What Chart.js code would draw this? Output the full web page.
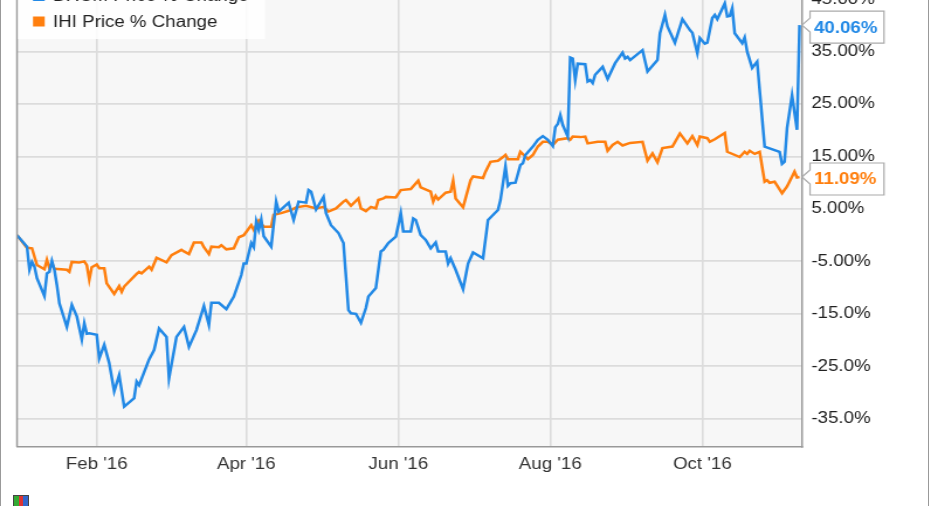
<!DOCTYPE html>
<html lang="en">
<head>
  <meta charset="UTF-8">
  <title>IHI Price % Change</title>
  <style>
    html, body { margin: 0; padding: 0; background: #fff; }
    #wrap { position: relative; width: 931px; height: 506px; overflow: hidden; }
    #chart { position: absolute; left: 0; top: -30px; width: 931px; height: 536px; }
    #frame { position: absolute; left: 0; top: 0; width: 929px; height: 506px; border-left: 1px solid #999; border-right: 1px solid #999; box-sizing: border-box; }
    #logo { position: absolute; left: 13px; top: 495px; width: 14px; height: 12px; border: 1px solid #444;
            background: linear-gradient(90deg, #3a3 0 33%, #d33 33% 66%, #36c 66%); }
  </style>
</head>
<body>
  <div id="wrap">
    <canvas id="chart" width="796" height="536" style="width:931px;height:536px"></canvas>
    <div id="frame"></div>
    <div id="logo"></div>
  </div>
  <script src="https://cdn.jsdelivr.net/npm/chart.js"></script>
  <script>
    // days since 31 Dec 2015, % price change
    const blueName = "DXCM Price % Change";
    const blueDays = [0,4,5,6,7,8,11,12,13,14,15,16,17,20,22,24,26,27,28,29,32,33,35,37,39,41,43,47,48,49,
      53,55,57,60,61,64,67,69,72,75,77,78,81,84,87,90,91,92,94,95,96,97,98,99,102,104,105,109,111,113,
      116,117,118,120,123,124,126,129,131,133,134,136,138,140,141,144,146,147,149,152,153,154,155,158,159,160,162,164,166,168,
      169,172,173,174,176,179,181,183,187,189,193,194,196,197,198,200,202,203,204,207,209,211,213,215,216,217,218,219,221,222,
      223,224,225,228,229,230,231,232,235,237,240,243,244,245,246,251,253,257,258,260,261,264,267,270,271,273,274,276,277,279,
      280,281,284,285,286,287,288,291,292,293,295,297,300,306,307,308,309,311,313,314];
    const blueValues = [0,-2.2,-6.6,-5.1,-6.0,-8.2,-11.6,-7.3,-7.0,-4.9,-6.6,-9.5,-13.0,-17.5,-13.3,-15.5,-19.9,-16.8,-18.8,-18.7,
      -19.0,-23.5,-20.9,-24.4,-29.8,-26.7,-32.7,-31.1,-27.9,-28.6,-23.7,-21.9,-17.8,-19.4,-27.3,-19.4,-17.5,-21.3,-18.1,-13.5,
      -17.1,-12.9,-12.9,-14.1,-11.7,-7.6,-5.4,-5.4,-1.5,-2.3,2.6,1.0,3.0,-0.2,-2.2,6.4,4.5,6.2,2.9,6.4,
      6.2,8.6,8.3,4.9,7.3,4.2,1.9,0.4,-1.5,-14.3,-14.9,-15.0,-16.7,-13.9,-11.7,-10.1,-3.1,-2.8,-1.5,-0.3,
      1.9,4.2,0.7,0.7,3.2,2.9,0.0,-0.9,-2.5,-1.4,-3.1,-3.1,-5.4,-4.4,-6.6,-10.3,-5.4,-3.3,-4.4,2.9,
      4.8,6.7,13.1,9.4,9.9,10.0,13.4,13.7,15.3,16.9,18.2,18.9,18.2,17.0,20.6,21.2,22.9,21.0,18.8,33.9,
      33.7,29.6,32.7,32.6,29.3,29.6,29.0,30.6,32.1,29.8,32.8,34.8,33.7,34.0,33.4,35.3,31.2,33.4,38.5,42.0,
      39.8,36.7,41.2,39.1,38.6,34.7,37.6,36.5,36.7,41.4,42.0,41.2,44.2,41.7,41.8,43.3,38.5,36.6,37.7,35.0,
      31.9,33.1,16.9,15.9,13.6,14.0,20.4,26.7,20.1,40.06];

    const ihiName = "IHI Price % Change";
    const ihiDays = [0,4,6,8,11,12,13,14,15,20,21,22,25,27,28,29,30,32,33,35,36,39,41,42,43,48,49,50,53,54,
      56,60,62,66,67,69,71,74,75,77,78,81,82,84,87,89,91,94,95,97,99,102,103,106,110,112,116,120,122,123,
      125,128,131,132,134,137,138,140,142,144,145,147,148,152,154,158,161,162,166,167,168,169,172,174,175,176,179,182,183,187,
      188,190,193,195,196,197,201,202,204,205,207,209,211,213,215,217,221,222,223,226,228,229,233,236,237,239,241,243,246,251,
      253,255,257,259,263,266,269,271,273,274,277,278,280,284,285,290,292,293,294,296,298,300,301,302,304,307,309,312,313,314];
    const ihiValues = [0,-2.4,-2.5,-5.7,-6.5,-4.7,-6.3,-5.4,-6.4,-6.6,-7.0,-5.1,-5.2,-5.0,-5.7,-8.5,-6.1,-5.6,-6.3,-6.3,
      -9.2,-11.2,-9.7,-10.8,-9.8,-7.4,-7.0,-7.3,-6.0,-6.6,-4.3,-5.2,-3.8,-2.8,-3.1,-3.6,-1.4,-1.4,-2.3,-3.6,
      -2.2,-2.3,-1.9,-2.7,-2.5,-0.4,0.0,1.9,1.0,2.8,1.6,1.6,3.9,4.2,4.8,5.3,5.6,5.1,5.3,5.4,
      4.5,5.1,6.4,6.7,5.6,7.0,5.1,4.6,5.4,5.1,6.7,7.0,7.3,7.2,8.6,8.8,10.4,9.1,8.3,6.4,
      7.5,6.8,8.1,8.3,10.4,7.0,5.3,10.5,11.2,10.9,12.1,14.0,14.2,14.9,15.3,14.5,14.5,15.9,15.0,14.5,
      15.3,16.9,17.8,17.8,17.2,18.2,18.5,18.2,18.8,18.7,18.8,17.5,17.8,17.8,16.1,17.2,17.8,17.1,17.6,17.8,
      14.2,15.6,13.9,16.6,16.9,19.4,17.5,18.9,17.2,18.8,18.5,17.8,18.3,19.5,15.9,14.9,15.9,15.5,16.1,15.5,
      15.9,10.2,10.5,10.0,10.2,8.0,9.3,12.1,11.0,11.09];

    const xTickDays = [32, 92, 153, 214, 275];
    const xTickLabels = ["Feb '16", "Apr '16", "Jun '16", "Aug '16", "Oct '16"];
    const yTicks = [-35, -25, -15, -5, 5, 15, 25, 35, 45];
    const yTickLabels = ["-35.0%", "-25.0%", "-15.0%", "-5.00%", "5.00%", "15.00%", "25.00%", "35.00%", "45.00%"];

    const BLUE = '#2289e6', ORANGE = '#ff7f0e';
    const FONT = 'Arial, "Liberation Sans", sans-serif';
    // the picture is stretched sideways; canvas is 796 wide, shown at 931
    const S = 931 / 796;
    const X = px => px / S;

    const plotBg = {
      id: 'plotBg',
      beforeDraw(chart) {
        const { ctx, chartArea: a } = chart;
        ctx.save();
        ctx.fillStyle = '#f7f7f7';
        ctx.fillRect(a.left, a.top, a.right - a.left, a.bottom - a.top);
        ctx.restore();
      }
    };

    const extras = {
      id: 'extras',
      afterDraw(chart) {
        const { ctx, chartArea: a } = chart;
        const ys = chart.scales.y;
        ctx.save();
        // left border of plot
        ctx.strokeStyle = '#999';
        ctx.lineWidth = 1.5;
        ctx.beginPath();
        ctx.moveTo(a.left, a.top);
        ctx.lineTo(a.left, a.bottom);
        ctx.stroke();

        // legend box
        ctx.fillStyle = 'rgba(255,255,255,0.85)';
        ctx.fillRect(X(18), 0, X(265) - X(18), 69);
        const rows = [[blueName, BLUE, 26], [ihiName, ORANGE, 51.5]];
        ctx.font = '16px ' + FONT;
        ctx.textBaseline = 'middle';
        ctx.textAlign = 'left';
        rows.forEach(([name, color, y]) => {
          ctx.fillStyle = color;
          ctx.fillRect(X(33), y - 5, 10, 10);
          ctx.fillStyle = '#222';
          ctx.fillText(name, X(53), y + 1);
        });

        // end value tags
        const tags = [[blueValues[blueValues.length - 1], BLUE], [ihiValues[ihiValues.length - 1], ORANGE]];
        tags.forEach(([v, color]) => {
          const y = ys.getPixelForValue(v);
          const cy = y + 2, l = X(810), r = X(884), t = cy - 16, b = cy + 16;
          ctx.beginPath();
          ctx.moveTo(a.right, y);
          ctx.lineTo(l, y - 7);
          ctx.lineTo(l, t);
          ctx.lineTo(r, t);
          ctx.lineTo(r, b);
          ctx.lineTo(l, b);
          ctx.lineTo(l, y + 7);
          ctx.closePath();
          ctx.fillStyle = '#fff';
          ctx.fill();
          ctx.strokeStyle = '#aaa';
          ctx.lineWidth = 1.2;
          ctx.stroke();
          ctx.fillStyle = color;
          ctx.font = 'bold 16px ' + FONT;
          ctx.fillText(v.toFixed(2) + '%', X(814), cy + 1);
        });
        ctx.restore();
      }
    };

    new Chart(document.getElementById('chart'), {
      type: 'line',
      data: {
        datasets: [
          { label: blueName, data: blueDays.map((d, i) => ({ x: d, y: blueValues[i] })),
            borderColor: BLUE, borderWidth: 2.5, pointRadius: 0, tension: 0 },
          { label: ihiName, data: ihiDays.map((d, i) => ({ x: d, y: ihiValues[i] })),
            borderColor: ORANGE, borderWidth: 2.5, pointRadius: 0, tension: 0 }
        ]
      },
      options: {
        responsive: false,
        devicePixelRatio: 1,
        animation: false,
        layout: { padding: { left: X(17), top: 3, right: 0, bottom: 0 } },
        plugins: { legend: { display: false }, tooltip: { enabled: false } },
        scales: {
          x: {
            type: 'linear', min: 0, max: 315,
            afterBuildTicks: s => { s.ticks = xTickDays.map(v => ({ value: v })); },
            afterFit: s => { s.height = 59; s.paddingLeft = 0; s.paddingRight = 0; },
            ticks: {
              autoSkip: false, maxRotation: 0, padding: 8, color: '#333',
              font: { family: FONT, size: 16 },
              callback: v => xTickLabels[xTickDays.indexOf(v)]
            },
            grid: { color: '#dcdcdc', lineWidth: 1.6, drawTicks: false },
            border: { color: '#999', width: 1.5 }
          },
          y: {
            type: 'linear', position: 'right', min: -40.4, max: 50,
            afterBuildTicks: s => { s.ticks = yTicks.map(v => ({ value: v })); },
            afterFit: s => { s.width = 796 - X(802); s.paddingTop = 0; s.paddingBottom = 0; },
            ticks: {
              padding: 8, color: '#222',
              font: { family: FONT, size: 16 },
              callback: v => yTickLabels[yTicks.indexOf(v)]
            },
            grid: { color: '#dcdcdc', lineWidth: 1.8, drawTicks: false },
            border: { color: '#999', width: 1.5 }
          }
        }
      },
      plugins: [plotBg, extras]
    });
  </script>
</body>
</html>
